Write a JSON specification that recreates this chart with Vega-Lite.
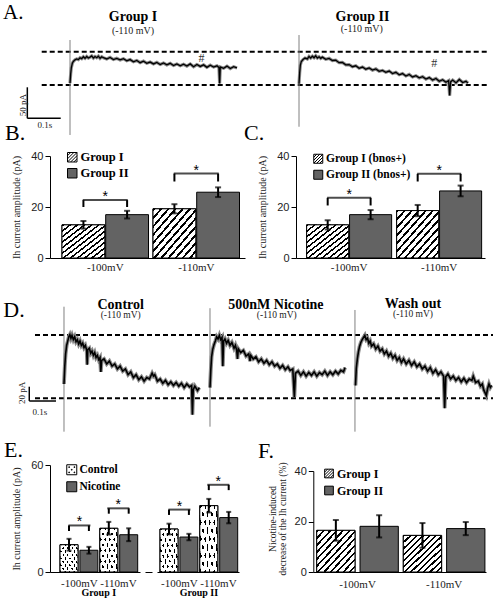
{
"$schema": "https://vega.github.io/schema/vega-lite/v6.json",
"background": "white",
"padding": 0,
"columns": 4,
"spacing": 0,
"bounds": "flush",
"align": "each",
"resolve": {"scale": {"x": "independent", "y": "independent", "xOffset": "independent", "fill": "independent"}, "axis": {"x": "independent", "y": "independent"}, "legend": {"fill": "independent"}},
"datasets": {
"barsB": [
{"volt":"-100mV","group":"Group I","mean":13.0,"lo":11.5,"hi":14.5},
{"volt":"-100mV","group":"Group II","mean":17.0,"lo":15.5,"hi":18.5},
{"volt":"-110mV","group":"Group I","mean":19.3,"lo":17.5,"hi":21.1},
{"volt":"-110mV","group":"Group II","mean":25.8,"lo":23.9,"hi":27.7}],
"sigB": [
{"volt":"-100mV","group":"Group I","top":22.7,"leg":20.0},
{"volt":"-100mV","group":"Group II","top":22.7,"leg":20.0},
{"volt":"-110mV","group":"Group I","top":33.1,"leg":30.0},
{"volt":"-110mV","group":"Group II","top":33.1,"leg":30.0}],
"barsC": [
{"volt":"-100mV","group":"Group I (bnos+)","mean":13.0,"lo":11.2,"hi":14.8},
{"volt":"-100mV","group":"Group II (bnos+)","mean":17.0,"lo":15.2,"hi":18.8},
{"volt":"-110mV","group":"Group I (bnos+)","mean":18.6,"lo":16.4,"hi":20.8},
{"volt":"-110mV","group":"Group II (bnos+)","mean":26.3,"lo":24.2,"hi":28.4}],
"sigC": [
{"volt":"-100mV","group":"Group I (bnos+)","top":23.6,"leg":20.6},
{"volt":"-100mV","group":"Group II (bnos+)","top":23.6,"leg":20.6},
{"volt":"-110mV","group":"Group I (bnos+)","top":33.0,"leg":30.0},
{"volt":"-110mV","group":"Group II (bnos+)","top":33.0,"leg":30.0}],
"barsE": [
{"cohort":"Group I","volt":"-100mV","cond":"Control","slot":"-100mV Control","mean":15.3,"lo":12.0,"hi":18.6},
{"cohort":"Group I","volt":"-100mV","cond":"Nicotine","slot":"-100mV Nicotine","mean":12.2,"lo":10.3,"hi":14.1},
{"cohort":"Group I","volt":"-110mV","cond":"Control","slot":"-110mV Control","mean":24.5,"lo":21.0,"hi":28.1},
{"cohort":"Group I","volt":"-110mV","cond":"Nicotine","slot":"-110mV Nicotine","mean":20.9,"lo":17.3,"hi":24.5},
{"cohort":"Group II","volt":"-100mV","cond":"Control","slot":"-100mV Control","mean":24.1,"lo":21.1,"hi":27.1},
{"cohort":"Group II","volt":"-100mV","cond":"Nicotine","slot":"-100mV Nicotine","mean":19.6,"lo":17.8,"hi":21.4},
{"cohort":"Group II","volt":"-110mV","cond":"Control","slot":"-110mV Control","mean":37.2,"lo":33.4,"hi":41.0},
{"cohort":"Group II","volt":"-110mV","cond":"Nicotine","slot":"-110mV Nicotine","mean":30.5,"lo":27.3,"hi":33.7}],
"sigE": [
{"cohort":"Group I","volt":"-100mV","slot":"-100mV Control","top":26.1,"leg":23.0},
{"cohort":"Group I","volt":"-100mV","slot":"-100mV Nicotine","top":26.1,"leg":23.0},
{"cohort":"Group I","volt":"-110mV","slot":"-110mV Control","top":35.7,"leg":32.7},
{"cohort":"Group I","volt":"-110mV","slot":"-110mV Nicotine","top":35.7,"leg":32.7},
{"cohort":"Group II","volt":"-100mV","slot":"-100mV Control","top":35.0,"leg":32.0},
{"cohort":"Group II","volt":"-100mV","slot":"-100mV Nicotine","top":35.0,"leg":32.0},
{"cohort":"Group II","volt":"-110mV","slot":"-110mV Control","top":48.9,"leg":45.9},
{"cohort":"Group II","volt":"-110mV","slot":"-110mV Nicotine","top":48.9,"leg":45.9}],
"barsF": [
{"volt":"-100mV","group":"Group I","mean":16.5,"lo":12.4,"hi":20.6},
{"volt":"-100mV","group":"Group II","mean":18.1,"lo":13.7,"hi":22.5},
{"volt":"-110mV","group":"Group I","mean":14.5,"lo":9.6,"hi":19.4},
{"volt":"-110mV","group":"Group II","mean":17.2,"lo":14.6,"hi":19.8}],
"segs": [
{"panel":"A1","kind":"dash","t":-0.0847,"t2":1.2485,"pA":0,"pA2":0},
{"panel":"A1","kind":"dash","t":-0.0847,"t2":1.2485,"pA":53.7,"pA2":53.7},
{"panel":"A1","kind":"art","t":0,"t2":0,"pA":-80.6,"pA2":72.6},
{"panel":"A1","kind":"bar","t":-0.1278,"t2":-0.0278,"pA":-53.7,"pA2":-53.7},
{"panel":"A1","kind":"bar","t":-0.1278,"t2":-0.1278,"pA":-53.7,"pA2":-3.7},
{"panel":"A2","kind":"art","t":0,"t2":0,"pA":-67.3,"pA2":80.6},
{"panel":"D1","kind":"dash","t":-0.1086,"t2":1.6067,"pA":0,"pA2":0},
{"panel":"D1","kind":"dash","t":-0.1086,"t2":1.6067,"pA":88.5,"pA2":88.5},
{"panel":"D1","kind":"art","t":0,"t2":0,"pA":-46.7,"pA2":128.1},
{"panel":"D1","kind":"bar","t":-0.13,"t2":-0.03,"pA":-3.8,"pA2":-3.8},
{"panel":"D1","kind":"bar","t":-0.13,"t2":-0.13,"pA":-3.8,"pA2":16.2},
{"panel":"D2","kind":"art","t":0,"t2":0,"pA":-39.7,"pA2":126},
{"panel":"D3","kind":"art","t":-0.002,"t2":-0.002,"pA":-46.7,"pA2":123.5}],
"notes": [
{"panel":"A1","kind":"letter","t":-0.2006,"pA":106.4,"text":"A."},
{"panel":"A1","kind":"title","t":0.1886,"pA":102.7,"text":"Group I"},
{"panel":"A1","kind":"sub","t":0.1886,"pA":81.5,"text":"(-110 mV)"},
{"panel":"A1","kind":"hash","t":0.394,"pA":37.1,"text":"#"},
{"panel":"A1","kind":"sl","t":-0.0749,"pA":-69.4,"text":"0.1s"},
{"panel":"A1","kind":"slv","t":-0.1416,"pA":-32.3,"text":"50 pA"},
{"panel":"A2","kind":"title","t":0.19,"pA":104,"text":"Group II"},
{"panel":"A2","kind":"sub","t":0.188,"pA":84.7,"text":"(-110 mV)"},
{"panel":"A2","kind":"hash","t":0.405,"pA":29,"text":"#"},
{"panel":"D1","kind":"letter","t":-0.2273,"pA":114.1,"text":"D."},
{"panel":"D1","kind":"title","t":0.2124,"pA":124.6,"text":"Control"},
{"panel":"D1","kind":"sub","t":0.2124,"pA":111.6,"text":"(-110 mV)"},
{"panel":"D1","kind":"sl","t":-0.09,"pA":-23.4,"text":"0.1s"},
{"panel":"D1","kind":"slv","t":-0.1584,"pA":7.4,"text":"20 pA"},
{"panel":"D2","kind":"title","t":0.247,"pA":125.4,"text":"500nM Nicotine"},
{"panel":"D2","kind":"sub","t":0.25,"pA":112.3,"text":"(-110 mV)"},
{"panel":"D3","kind":"title","t":0.2154,"pA":126.8,"text":"Wash out"},
{"panel":"D3","kind":"sub","t":0.2154,"pA":113.7,"text":"(-110 mV)"}],
"trA1": [
{"t":0,"pA":3},{"t":0.002,"pA":18},{"t":0.004,"pA":28},{"t":0.007,"pA":35},{"t":0.01,"pA":38},{"t":0.015,"pA":40.5},{"t":0.02,"pA":42},{"t":0.025,"pA":41},{"t":0.03,"pA":44},{"t":0.035,"pA":42.5},{"t":0.04,"pA":45.5},{"t":0.045,"pA":43},{"t":0.05,"pA":46},{"t":0.055,"pA":43.5},{"t":0.06,"pA":45},{"t":0.065,"pA":47},{"t":0.07,"pA":43.5},{"t":0.075,"pA":46},{"t":0.08,"pA":44},{"t":0.085,"pA":46.5},{"t":0.09,"pA":43},{"t":0.095,"pA":45.5},{"t":0.1,"pA":44},{"t":0.11,"pA":42},{"t":0.12,"pA":44.5},{"t":0.13,"pA":41},{"t":0.14,"pA":43},{"t":0.15,"pA":40.5},{"t":0.16,"pA":42.5},{"t":0.17,"pA":39},{"t":0.18,"pA":41},{"t":0.19,"pA":37.5},{"t":0.2,"pA":39.5},{"t":0.21,"pA":36},{"t":0.22,"pA":38.5},{"t":0.23,"pA":35},{"t":0.24,"pA":37},{"t":0.25,"pA":34},{"t":0.26,"pA":36.5},{"t":0.27,"pA":33},{"t":0.28,"pA":35.5},{"t":0.29,"pA":32.5},{"t":0.3,"pA":35},{"t":0.31,"pA":31.5},{"t":0.32,"pA":34},{"t":0.33,"pA":31},{"t":0.34,"pA":33.5},{"t":0.35,"pA":30.5},{"t":0.36,"pA":34},{"t":0.37,"pA":29.5},{"t":0.38,"pA":33},{"t":0.39,"pA":30},{"t":0.4,"pA":32.5},{"t":0.41,"pA":28.5},{"t":0.42,"pA":32},{"t":0.43,"pA":29},{"t":0.44,"pA":31},{"t":0.446,"pA":28},{"t":0.448,"pA":2.5},{"t":0.45,"pA":29},{"t":0.46,"pA":27},{"t":0.47,"pA":30.5},{"t":0.48,"pA":26.5},{"t":0.49,"pA":29.5},{"t":0.5,"pA":27.5}],
"trA2": [
{"t":0,"pA":2},{"t":0.002,"pA":20},{"t":0.004,"pA":32},{"t":0.007,"pA":38},{"t":0.012,"pA":41},{"t":0.018,"pA":43.5},{"t":0.025,"pA":42},{"t":0.03,"pA":46},{"t":0.035,"pA":43.5},{"t":0.04,"pA":46.5},{"t":0.045,"pA":44},{"t":0.05,"pA":47},{"t":0.055,"pA":43.5},{"t":0.06,"pA":45.5},{"t":0.065,"pA":43},{"t":0.07,"pA":45},{"t":0.08,"pA":41.5},{"t":0.09,"pA":43},{"t":0.1,"pA":39.5},{"t":0.11,"pA":40},{"t":0.12,"pA":36},{"t":0.13,"pA":36.5},{"t":0.14,"pA":32.5},{"t":0.15,"pA":33},{"t":0.16,"pA":29.5},{"t":0.17,"pA":31},{"t":0.18,"pA":27},{"t":0.19,"pA":29},{"t":0.2,"pA":25.5},{"t":0.21,"pA":27.5},{"t":0.22,"pA":24},{"t":0.23,"pA":26},{"t":0.24,"pA":22},{"t":0.25,"pA":23.5},{"t":0.26,"pA":20.5},{"t":0.27,"pA":22.5},{"t":0.28,"pA":18.5},{"t":0.29,"pA":20.5},{"t":0.3,"pA":16.5},{"t":0.31,"pA":18.5},{"t":0.32,"pA":14.5},{"t":0.33,"pA":17},{"t":0.34,"pA":13},{"t":0.35,"pA":15},{"t":0.36,"pA":11.5},{"t":0.37,"pA":13.5},{"t":0.38,"pA":9.5},{"t":0.39,"pA":12},{"t":0.4,"pA":8},{"t":0.41,"pA":10.5},{"t":0.42,"pA":6},{"t":0.43,"pA":8.5},{"t":0.44,"pA":4.5},{"t":0.448,"pA":7},{"t":0.451,"pA":-17},{"t":0.454,"pA":5},{"t":0.46,"pA":8},{"t":0.47,"pA":3.5},{"t":0.48,"pA":9},{"t":0.49,"pA":4},{"t":0.5,"pA":6},{"t":0.506,"pA":3}],
"trD1": [
{"t":0,"pA":20},{"t":0.003,"pA":45},{"t":0.006,"pA":62},{"t":0.01,"pA":74},{"t":0.014,"pA":80},{"t":0.018,"pA":86},{"t":0.022,"pA":89},{"t":0.026,"pA":84},{"t":0.03,"pA":88},{"t":0.035,"pA":82},{"t":0.04,"pA":86},{"t":0.045,"pA":79},{"t":0.05,"pA":82},{"t":0.055,"pA":76},{"t":0.06,"pA":80},{"t":0.065,"pA":74},{"t":0.07,"pA":77},{"t":0.075,"pA":71},{"t":0.08,"pA":74},{"t":0.085,"pA":67},{"t":0.087,"pA":47},{"t":0.089,"pA":68},{"t":0.095,"pA":70},{"t":0.1,"pA":63},{"t":0.105,"pA":66},{"t":0.11,"pA":60},{"t":0.115,"pA":64},{"t":0.12,"pA":57},{"t":0.125,"pA":60},{"t":0.13,"pA":54},{"t":0.135,"pA":57},{"t":0.138,"pA":37},{"t":0.141,"pA":53},{"t":0.15,"pA":55},{"t":0.16,"pA":48},{"t":0.17,"pA":52},{"t":0.18,"pA":45},{"t":0.19,"pA":48},{"t":0.2,"pA":41},{"t":0.21,"pA":45},{"t":0.22,"pA":38},{"t":0.23,"pA":41},{"t":0.24,"pA":33},{"t":0.25,"pA":37},{"t":0.26,"pA":29},{"t":0.27,"pA":33},{"t":0.28,"pA":26},{"t":0.29,"pA":30},{"t":0.3,"pA":24},{"t":0.31,"pA":29},{"t":0.32,"pA":27},{"t":0.33,"pA":35},{"t":0.335,"pA":31},{"t":0.34,"pA":33},{"t":0.35,"pA":24},{"t":0.36,"pA":27},{"t":0.37,"pA":21},{"t":0.38,"pA":25},{"t":0.39,"pA":19},{"t":0.4,"pA":23},{"t":0.41,"pA":18},{"t":0.42,"pA":22},{"t":0.43,"pA":17},{"t":0.44,"pA":21},{"t":0.45,"pA":15},{"t":0.46,"pA":20},{"t":0.47,"pA":16},{"t":0.478,"pA":18},{"t":0.481,"pA":-23},{"t":0.484,"pA":12},{"t":0.49,"pA":17},{"t":0.5,"pA":11},{"t":0.507,"pA":15}],
"trD2": [
{"t":0,"pA":15},{"t":0.003,"pA":40},{"t":0.006,"pA":58},{"t":0.01,"pA":68},{"t":0.015,"pA":75},{"t":0.02,"pA":80},{"t":0.025,"pA":86},{"t":0.03,"pA":83},{"t":0.035,"pA":88},{"t":0.04,"pA":82},{"t":0.045,"pA":85},{"t":0.048,"pA":45},{"t":0.051,"pA":80},{"t":0.056,"pA":83},{"t":0.062,"pA":77},{"t":0.068,"pA":81},{"t":0.075,"pA":74},{"t":0.082,"pA":78},{"t":0.09,"pA":70},{"t":0.095,"pA":74},{"t":0.1,"pA":67},{"t":0.103,"pA":55},{"t":0.106,"pA":69},{"t":0.115,"pA":64},{"t":0.125,"pA":67},{"t":0.135,"pA":59},{"t":0.145,"pA":62},{"t":0.15,"pA":52},{"t":0.153,"pA":60},{"t":0.162,"pA":55},{"t":0.172,"pA":58},{"t":0.182,"pA":51},{"t":0.192,"pA":55},{"t":0.202,"pA":49},{"t":0.212,"pA":53},{"t":0.222,"pA":47},{"t":0.232,"pA":51},{"t":0.242,"pA":45},{"t":0.252,"pA":48},{"t":0.262,"pA":42},{"t":0.272,"pA":46},{"t":0.282,"pA":40},{"t":0.292,"pA":44},{"t":0.3,"pA":39},{"t":0.31,"pA":41},{"t":0.316,"pA":2},{"t":0.32,"pA":35},{"t":0.33,"pA":38},{"t":0.34,"pA":32},{"t":0.35,"pA":37},{"t":0.36,"pA":31},{"t":0.37,"pA":36},{"t":0.38,"pA":32},{"t":0.39,"pA":37},{"t":0.4,"pA":31},{"t":0.41,"pA":36},{"t":0.42,"pA":33},{"t":0.43,"pA":38},{"t":0.44,"pA":32},{"t":0.45,"pA":37},{"t":0.46,"pA":33},{"t":0.47,"pA":38},{"t":0.48,"pA":34},{"t":0.49,"pA":39},{"t":0.5,"pA":37},{"t":0.506,"pA":43}],
"trD3": [
{"t":0,"pA":18},{"t":0.003,"pA":42},{"t":0.007,"pA":55},{"t":0.011,"pA":65},{"t":0.015,"pA":72},{"t":0.02,"pA":78},{"t":0.025,"pA":82},{"t":0.03,"pA":85},{"t":0.035,"pA":88},{"t":0.04,"pA":82},{"t":0.045,"pA":84},{"t":0.05,"pA":77},{"t":0.055,"pA":80},{"t":0.06,"pA":73},{"t":0.068,"pA":76},{"t":0.076,"pA":69},{"t":0.084,"pA":73},{"t":0.092,"pA":66},{"t":0.1,"pA":69},{"t":0.108,"pA":62},{"t":0.116,"pA":66},{"t":0.124,"pA":59},{"t":0.132,"pA":63},{"t":0.14,"pA":56},{"t":0.148,"pA":60},{"t":0.156,"pA":53},{"t":0.164,"pA":57},{"t":0.172,"pA":50},{"t":0.18,"pA":55},{"t":0.19,"pA":48},{"t":0.2,"pA":53},{"t":0.21,"pA":46},{"t":0.22,"pA":51},{"t":0.23,"pA":44},{"t":0.24,"pA":48},{"t":0.25,"pA":41},{"t":0.26,"pA":45},{"t":0.27,"pA":38},{"t":0.28,"pA":43},{"t":0.29,"pA":35},{"t":0.3,"pA":40},{"t":0.31,"pA":33},{"t":0.32,"pA":37},{"t":0.33,"pA":31},{"t":0.334,"pA":-14},{"t":0.338,"pA":30},{"t":0.346,"pA":34},{"t":0.356,"pA":27},{"t":0.366,"pA":31},{"t":0.376,"pA":25},{"t":0.386,"pA":29},{"t":0.396,"pA":23},{"t":0.406,"pA":28},{"t":0.416,"pA":22},{"t":0.426,"pA":27},{"t":0.436,"pA":25},{"t":0.441,"pA":31},{"t":0.45,"pA":22},{"t":0.46,"pA":24},{"t":0.468,"pA":17},{"t":0.475,"pA":20},{"t":0.48,"pA":12},{"t":0.485,"pA":8},{"t":0.49,"pA":4},{"t":0.495,"pA":14},{"t":0.5,"pA":20},{"t":0.505,"pA":15},{"t":0.51,"pA":18}]
},
"concat": [
{"data": {"values": []}, "mark": "point", "width": 50, "height": 156},
{"width": 195, "height": 156,
 "encoding": {
  "x": {"field": "t", "type": "quantitative", "scale": {"domain": [-0.0599, 0.524], "nice": false, "zero": false}, "axis": null},
  "y": {"field": "pA", "type": "quantitative", "scale": {"domain": [-114.5, 137.1], "nice": false, "zero": false}, "axis": null}},
 "layer": [
  {"data": {"name": "segs"}, "transform": [{"filter": "datum.panel === 'A1' && datum.kind === 'dash'"}], "mark": {"type": "rule", "color": "black", "strokeWidth": 2, "strokeDash": [5, 3]}, "encoding": {"x2": {"field": "t2"}, "y2": {"field": "pA2"}}},
  {"data": {"name": "segs"}, "transform": [{"filter": "datum.panel === 'A1' && datum.kind === 'art'"}], "mark": {"type": "rule", "color": "#808080", "strokeWidth": 1}, "encoding": {"x2": {"field": "t2"}, "y2": {"field": "pA2"}}},
  {"data": {"name": "segs"}, "transform": [{"filter": "datum.panel === 'A1' && datum.kind === 'bar'"}], "mark": {"type": "rule", "color": "black", "strokeWidth": 1.5}, "encoding": {"x2": {"field": "t2"}, "y2": {"field": "pA2"}}},
  {"data": {"name": "trA1"}, "mark": {"type": "line", "color": "#8a8a8a", "strokeWidth": 3.2}, "encoding": {}},
  {"data": {"name": "trA1"}, "mark": {"type": "line", "color": "black", "strokeWidth": 1.3}, "encoding": {}},
  {"data": {"name": "notes"}, "transform": [{"filter": "datum.panel === 'A1' && datum.kind === 'letter'"}], "mark": {"type": "text", "fontSize": 21, "align": "left", "baseline": "alphabetic", "color": "black"}, "encoding": {"text": {"field": "text"}}},
  {"data": {"name": "notes"}, "transform": [{"filter": "datum.panel === 'A1' && datum.kind === 'title'"}], "mark": {"type": "text", "fontSize": 14, "fontWeight": "bold", "align": "center", "baseline": "alphabetic", "color": "black"}, "encoding": {"text": {"field": "text"}}},
  {"data": {"name": "notes"}, "transform": [{"filter": "datum.panel === 'A1' && datum.kind === 'sub'"}], "mark": {"type": "text", "fontSize": 10, "align": "center", "baseline": "alphabetic", "color": "#222"}, "encoding": {"text": {"field": "text"}}},
  {"data": {"name": "notes"}, "transform": [{"filter": "datum.panel === 'A1' && datum.kind === 'hash'"}], "mark": {"type": "text", "fontSize": 12, "align": "center", "baseline": "alphabetic", "color": "#333"}, "encoding": {"text": {"field": "text"}}},
  {"data": {"name": "notes"}, "transform": [{"filter": "datum.panel === 'A1' && datum.kind === 'sl'"}], "mark": {"type": "text", "fontSize": 9, "align": "center", "baseline": "alphabetic", "color": "#222"}, "encoding": {"text": {"field": "text"}}},
  {"data": {"name": "notes"}, "transform": [{"filter": "datum.panel === 'A1' && datum.kind === 'slv'"}], "mark": {"type": "text", "fontSize": 9, "align": "center", "baseline": "middle", "angle": 270, "color": "#222"}, "encoding": {"text": {"field": "text"}}}
 ]},
{"data": {"values": []}, "mark": "point", "width": 51, "height": 156},
{"width": 190, "height": 156,
 "encoding": {
  "x": {"field": "t", "type": "quantitative", "scale": {"domain": [-0.009, 0.5599], "nice": false, "zero": false}, "axis": null},
  "y": {"field": "pA", "type": "quantitative", "scale": {"domain": [-114.5, 137.1], "nice": false, "zero": false}, "axis": null}},
 "layer": [
  {"data": {"name": "segs"}, "transform": [{"filter": "datum.panel === 'A2' && datum.kind === 'art'"}], "mark": {"type": "rule", "color": "#808080", "strokeWidth": 1}, "encoding": {"x2": {"field": "t2"}, "y2": {"field": "pA2"}}},
  {"data": {"name": "trA2"}, "mark": {"type": "line", "color": "#8a8a8a", "strokeWidth": 3.2}, "encoding": {}},
  {"data": {"name": "trA2"}, "mark": {"type": "line", "color": "black", "strokeWidth": 1.3}, "encoding": {}},
  {"data": {"name": "notes"}, "transform": [{"filter": "datum.panel === 'A2' && datum.kind === 'title'"}], "mark": {"type": "text", "fontSize": 14, "fontWeight": "bold", "align": "center", "baseline": "alphabetic", "color": "black"}, "encoding": {"text": {"field": "text"}}},
  {"data": {"name": "notes"}, "transform": [{"filter": "datum.panel === 'A2' && datum.kind === 'sub'"}], "mark": {"type": "text", "fontSize": 10, "align": "center", "baseline": "alphabetic", "color": "#222"}, "encoding": {"text": {"field": "text"}}},
  {"data": {"name": "notes"}, "transform": [{"filter": "datum.panel === 'A2' && datum.kind === 'hash'"}], "mark": {"type": "text", "fontSize": 12, "align": "center", "baseline": "alphabetic", "color": "#333"}, "encoding": {"text": {"field": "text"}}}
 ]},

{"data": {"values": []}, "mark": "point", "width": 50, "height": 102},
{"width": 195, "height": 102,
 "title": {"text": "B.", "dx": -45, "dy": -3},
 "encoding": {"x": {"field": "volt", "type": "nominal", "title": null, "scale": {"paddingInner": 0.0495, "paddingOuter": 0.0962, "align": 0.686}}},
 "layer": [
  {"data": {"name": "barsB"}, "mark": {"type": "bar", "stroke": "black", "strokeWidth": 1},
   "encoding": {
    "xOffset": {"field": "group", "type": "nominal", "scale": {"paddingInner": 0.02, "paddingOuter": 0}},
    "y": {"field": "mean", "type": "quantitative", "title": "Ih current amplitude (pA)", "scale": {"domain": [0, 40], "nice": false}, "axis": {"values": [0, 10, 20, 30, 40]}},
    "fill": {"field": "group", "type": "nominal", "scale": {"range": ["white", "#636363"]},
     "legend": {"title": null, "legendX": 16, "legendY": -5, "symbolSize": 90, "labelFontSize": 12.5, "rowPadding": 2,
      "encoding": {"symbols": {"shape": {"condition": {"test": "datum.value === 'Group I'", "value": "M-1,-1H1V1H-1Z M-1,-0.33L-0.33,-1 M-1,0.33L0.33,-1 M-1,1L1,-1 M-0.33,1L1,-0.33 M0.33,1L1,0.33"}, "value": "square"}}}}}}},
  {"data": {"name": "barsB"}, "transform": [{"filter": "datum.group === 'Group I'"}],
   "mark": {"type": "bar", "stroke": "black", "strokeWidth": 1, "fill": {"gradient":"linear","x1":0,"y1":0,"x2":1,"y2":1,"stops":[{"offset":0,"color":"#000"},{"offset":0.029,"color":"#000"},{"offset":0.029,"color":"#fff"},{"offset":0.083,"color":"#fff"},{"offset":0.083,"color":"#000"},{"offset":0.112,"color":"#000"},{"offset":0.112,"color":"#fff"},{"offset":0.167,"color":"#fff"},{"offset":0.167,"color":"#000"},{"offset":0.196,"color":"#000"},{"offset":0.196,"color":"#fff"},{"offset":0.25,"color":"#fff"},{"offset":0.25,"color":"#000"},{"offset":0.279,"color":"#000"},{"offset":0.279,"color":"#fff"},{"offset":0.333,"color":"#fff"},{"offset":0.333,"color":"#000"},{"offset":0.362,"color":"#000"},{"offset":0.362,"color":"#fff"},{"offset":0.417,"color":"#fff"},{"offset":0.417,"color":"#000"},{"offset":0.446,"color":"#000"},{"offset":0.446,"color":"#fff"},{"offset":0.5,"color":"#fff"},{"offset":0.5,"color":"#000"},{"offset":0.529,"color":"#000"},{"offset":0.529,"color":"#fff"},{"offset":0.583,"color":"#fff"},{"offset":0.583,"color":"#000"},{"offset":0.612,"color":"#000"},{"offset":0.612,"color":"#fff"},{"offset":0.667,"color":"#fff"},{"offset":0.667,"color":"#000"},{"offset":0.696,"color":"#000"},{"offset":0.696,"color":"#fff"},{"offset":0.75,"color":"#fff"},{"offset":0.75,"color":"#000"},{"offset":0.779,"color":"#000"},{"offset":0.779,"color":"#fff"},{"offset":0.833,"color":"#fff"},{"offset":0.833,"color":"#000"},{"offset":0.862,"color":"#000"},{"offset":0.862,"color":"#fff"},{"offset":0.917,"color":"#fff"},{"offset":0.917,"color":"#000"},{"offset":0.946,"color":"#000"},{"offset":0.946,"color":"#fff"},{"offset":1,"color":"#fff"}]}},
   "encoding": {"xOffset": {"field": "group", "type": "nominal"}, "y": {"field": "mean", "type": "quantitative", "title": "Ih current amplitude (pA)"}}},
  {"data": {"name": "barsB"}, "mark": {"type": "rule", "color": "black", "strokeWidth": 2},
   "encoding": {"xOffset": {"field": "group", "type": "nominal"}, "y": {"field": "lo", "type": "quantitative", "title": "Ih current amplitude (pA)"}, "y2": {"field": "hi"}}},
  {"data": {"name": "barsB"}, "mark": {"type": "tick", "color": "black", "thickness": 2, "size": 6},
   "encoding": {"xOffset": {"field": "group", "type": "nominal"}, "y": {"field": "hi", "type": "quantitative", "title": "Ih current amplitude (pA)"}}},
  {"data": {"name": "barsB"}, "mark": {"type": "tick", "color": "black", "thickness": 2, "size": 6},
   "encoding": {"xOffset": {"field": "group", "type": "nominal"}, "y": {"field": "lo", "type": "quantitative", "title": "Ih current amplitude (pA)"}}},
  {"data": {"name": "sigB"}, "mark": {"type": "rule", "color": "black", "strokeWidth": 2},
   "encoding": {"xOffset": {"field": "group", "type": "nominal"}, "y": {"field": "leg", "type": "quantitative", "title": "Ih current amplitude (pA)"}, "y2": {"field": "top"}}},
  {"data": {"name": "sigB"}, "transform": [{"filter": "datum.group === 'Group I'"}], "mark": {"type": "tick", "color": "black", "thickness": 2, "size": 45},
   "encoding": {"y": {"field": "top", "type": "quantitative", "title": "Ih current amplitude (pA)"}}},
  {"data": {"name": "sigB"}, "transform": [{"filter": "datum.group === 'Group I'"}], "mark": {"type": "text", "text": "*", "font": "Liberation Sans", "fontSize": 14, "dy": 1, "baseline": "alphabetic", "align": "center", "color": "black"},
   "encoding": {"y": {"field": "top", "type": "quantitative", "title": "Ih current amplitude (pA)"}}}
 ]},
{"data": {"values": []}, "mark": "point", "width": 51, "height": 102},
{"width": 189, "height": 102,
 "title": {"text": "C.", "dx": -52, "dy": -3},
 "encoding": {"x": {"field": "volt", "type": "nominal", "title": null, "scale": {"paddingInner": 0.0556, "paddingOuter": 0.0778, "align": 0.76}}},
 "layer": [
  {"data": {"name": "barsC"}, "mark": {"type": "bar", "stroke": "black", "strokeWidth": 1},
   "encoding": {
    "xOffset": {"field": "group", "type": "nominal", "scale": {"paddingInner": 0.02, "paddingOuter": 0}},
    "y": {"field": "mean", "type": "quantitative", "title": "Ih current amplitude (pA)", "scale": {"domain": [0, 40], "nice": false}, "axis": {"values": [0, 10, 20, 30, 40]}},
    "fill": {"field": "group", "type": "nominal", "scale": {"range": ["white", "#636363"]},
     "legend": {"title": null, "legendX": 16.5, "legendY": -3, "symbolSize": 81, "labelFontSize": 11.5, "rowPadding": 2,
      "encoding": {"symbols": {"shape": {"condition": {"test": "datum.value === 'Group I (bnos+)'", "value": "M-1,-1H1V1H-1Z M-1,-0.33L-0.33,-1 M-1,0.33L0.33,-1 M-1,1L1,-1 M-0.33,1L1,-0.33 M0.33,1L1,0.33"}, "value": "square"}}}}}}},
  {"data": {"name": "barsC"}, "transform": [{"filter": "datum.group === 'Group I (bnos+)'"}],
   "mark": {"type": "bar", "stroke": "black", "strokeWidth": 1, "fill": {"gradient":"linear","x1":0,"y1":0,"x2":1,"y2":1,"stops":[{"offset":0,"color":"#000"},{"offset":0.029,"color":"#000"},{"offset":0.029,"color":"#fff"},{"offset":0.083,"color":"#fff"},{"offset":0.083,"color":"#000"},{"offset":0.112,"color":"#000"},{"offset":0.112,"color":"#fff"},{"offset":0.167,"color":"#fff"},{"offset":0.167,"color":"#000"},{"offset":0.196,"color":"#000"},{"offset":0.196,"color":"#fff"},{"offset":0.25,"color":"#fff"},{"offset":0.25,"color":"#000"},{"offset":0.279,"color":"#000"},{"offset":0.279,"color":"#fff"},{"offset":0.333,"color":"#fff"},{"offset":0.333,"color":"#000"},{"offset":0.362,"color":"#000"},{"offset":0.362,"color":"#fff"},{"offset":0.417,"color":"#fff"},{"offset":0.417,"color":"#000"},{"offset":0.446,"color":"#000"},{"offset":0.446,"color":"#fff"},{"offset":0.5,"color":"#fff"},{"offset":0.5,"color":"#000"},{"offset":0.529,"color":"#000"},{"offset":0.529,"color":"#fff"},{"offset":0.583,"color":"#fff"},{"offset":0.583,"color":"#000"},{"offset":0.612,"color":"#000"},{"offset":0.612,"color":"#fff"},{"offset":0.667,"color":"#fff"},{"offset":0.667,"color":"#000"},{"offset":0.696,"color":"#000"},{"offset":0.696,"color":"#fff"},{"offset":0.75,"color":"#fff"},{"offset":0.75,"color":"#000"},{"offset":0.779,"color":"#000"},{"offset":0.779,"color":"#fff"},{"offset":0.833,"color":"#fff"},{"offset":0.833,"color":"#000"},{"offset":0.862,"color":"#000"},{"offset":0.862,"color":"#fff"},{"offset":0.917,"color":"#fff"},{"offset":0.917,"color":"#000"},{"offset":0.946,"color":"#000"},{"offset":0.946,"color":"#fff"},{"offset":1,"color":"#fff"}]}},
   "encoding": {"xOffset": {"field": "group", "type": "nominal"}, "y": {"field": "mean", "type": "quantitative", "title": "Ih current amplitude (pA)"}}},
  {"data": {"name": "barsC"}, "mark": {"type": "rule", "color": "black", "strokeWidth": 2},
   "encoding": {"xOffset": {"field": "group", "type": "nominal"}, "y": {"field": "lo", "type": "quantitative", "title": "Ih current amplitude (pA)"}, "y2": {"field": "hi"}}},
  {"data": {"name": "barsC"}, "mark": {"type": "tick", "color": "black", "thickness": 2, "size": 6},
   "encoding": {"xOffset": {"field": "group", "type": "nominal"}, "y": {"field": "hi", "type": "quantitative", "title": "Ih current amplitude (pA)"}}},
  {"data": {"name": "barsC"}, "mark": {"type": "tick", "color": "black", "thickness": 2, "size": 6},
   "encoding": {"xOffset": {"field": "group", "type": "nominal"}, "y": {"field": "lo", "type": "quantitative", "title": "Ih current amplitude (pA)"}}},
  {"data": {"name": "sigC"}, "mark": {"type": "rule", "color": "black", "strokeWidth": 2},
   "encoding": {"xOffset": {"field": "group", "type": "nominal"}, "y": {"field": "leg", "type": "quantitative", "title": "Ih current amplitude (pA)"}, "y2": {"field": "top"}}},
  {"data": {"name": "sigC"}, "transform": [{"filter": "datum.group === 'Group I (bnos+)'"}], "mark": {"type": "tick", "color": "black", "thickness": 2, "size": 44},
   "encoding": {"y": {"field": "top", "type": "quantitative", "title": "Ih current amplitude (pA)"}}},
  {"data": {"name": "sigC"}, "transform": [{"filter": "datum.group === 'Group I (bnos+)'"}], "mark": {"type": "text", "text": "*", "font": "Liberation Sans", "fontSize": 14, "dy": 1, "baseline": "alphabetic", "align": "center", "color": "black"},
   "encoding": {"y": {"field": "top", "type": "quantitative", "title": "Ih current amplitude (pA)"}}}
 ]},

{"data": {"values": []}, "mark": "point", "width": 50, "height": 206.5},
{"width": 195, "height": 206.5,
 "encoding": {
  "x": {"field": "t", "type": "quantitative", "scale": {"domain": [-0.0524, 0.6779], "nice": false, "zero": false}, "axis": null},
  "y": {"field": "pA", "type": "quantitative", "scale": {"domain": [-92.6, 196.2], "nice": false, "zero": false}, "axis": null}},
 "layer": [
  {"data": {"name": "segs"}, "transform": [{"filter": "datum.panel === 'D1' && datum.kind === 'dash'"}], "mark": {"type": "rule", "color": "black", "strokeWidth": 2, "strokeDash": [5, 3]}, "encoding": {"x2": {"field": "t2"}, "y2": {"field": "pA2"}}},
  {"data": {"name": "segs"}, "transform": [{"filter": "datum.panel === 'D1' && datum.kind === 'art'"}], "mark": {"type": "rule", "color": "#808080", "strokeWidth": 1}, "encoding": {"x2": {"field": "t2"}, "y2": {"field": "pA2"}}},
  {"data": {"name": "segs"}, "transform": [{"filter": "datum.panel === 'D1' && datum.kind === 'bar'"}], "mark": {"type": "rule", "color": "black", "strokeWidth": 1.5}, "encoding": {"x2": {"field": "t2"}, "y2": {"field": "pA2"}}},
  {"data": {"name": "trD1"}, "mark": {"type": "line", "color": "#8a8a8a", "strokeWidth": 3.8}, "encoding": {}},
  {"data": {"name": "trD1"}, "mark": {"type": "line", "color": "black", "strokeWidth": 1.6}, "encoding": {}},
  {"data": {"name": "notes"}, "transform": [{"filter": "datum.panel === 'D1' && datum.kind === 'letter'"}], "mark": {"type": "text", "fontSize": 22, "align": "left", "baseline": "alphabetic", "color": "black"}, "encoding": {"text": {"field": "text"}}},
  {"data": {"name": "notes"}, "transform": [{"filter": "datum.panel === 'D1' && datum.kind === 'title'"}], "mark": {"type": "text", "fontSize": 14, "fontWeight": "bold", "align": "center", "baseline": "alphabetic", "color": "black"}, "encoding": {"text": {"field": "text"}}},
  {"data": {"name": "notes"}, "transform": [{"filter": "datum.panel === 'D1' && datum.kind === 'sub'"}], "mark": {"type": "text", "fontSize": 9.5, "align": "center", "baseline": "alphabetic", "color": "#222"}, "encoding": {"text": {"field": "text"}}},
  {"data": {"name": "notes"}, "transform": [{"filter": "datum.panel === 'D1' && datum.kind === 'sl'"}], "mark": {"type": "text", "fontSize": 9, "align": "center", "baseline": "alphabetic", "color": "#222"}, "encoding": {"text": {"field": "text"}}},
  {"data": {"name": "notes"}, "transform": [{"filter": "datum.panel === 'D1' && datum.kind === 'slv'"}], "mark": {"type": "text", "fontSize": 9, "align": "center", "baseline": "middle", "angle": 270, "color": "#222"}, "encoding": {"text": {"field": "text"}}}
 ]},
{"width": 51, "height": 206.5,
 "encoding": {
  "x": {"field": "t", "type": "quantitative", "scale": {"domain": [0.1311, 0.3221], "nice": false, "zero": false}, "axis": null},
  "y": {"field": "pA", "type": "quantitative", "scale": {"domain": [-92.6, 196.2], "nice": false, "zero": false}, "axis": null}},
 "layer": [
  {"data": {"name": "segs"}, "transform": [{"filter": "datum.panel === 'D2' && datum.kind === 'art'"}], "mark": {"type": "rule", "color": "#808080", "strokeWidth": 1}, "encoding": {"x2": {"field": "t2"}, "y2": {"field": "pA2"}}},
  {"data": {"name": "trD2"}, "mark": {"type": "line", "color": "#8a8a8a", "strokeWidth": 3.8}, "encoding": {}},
  {"data": {"name": "trD2"}, "mark": {"type": "line", "color": "black", "strokeWidth": 1.6}, "encoding": {}},
  {"data": {"name": "notes"}, "transform": [{"filter": "datum.panel === 'D2' && datum.kind === 'title'"}], "mark": {"type": "text", "fontSize": 14, "fontWeight": "bold", "align": "center", "baseline": "alphabetic", "color": "black"}, "encoding": {"text": {"field": "text"}}},
  {"data": {"name": "notes"}, "transform": [{"filter": "datum.panel === 'D2' && datum.kind === 'sub'"}], "mark": {"type": "text", "fontSize": 9.5, "align": "center", "baseline": "alphabetic", "color": "#222"}, "encoding": {"text": {"field": "text"}}}
 ]},
{"width": 190, "height": 206.5,
 "encoding": {
  "x": {"field": "t", "type": "quantitative", "scale": {"domain": [-0.2228, 0.4888], "nice": false, "zero": false}, "axis": null},
  "y": {"field": "pA", "type": "quantitative", "scale": {"domain": [-92.6, 196.2], "nice": false, "zero": false}, "axis": null}},
 "layer": [
  {"data": {"name": "segs"}, "transform": [{"filter": "datum.panel === 'D3' && datum.kind === 'art'"}], "mark": {"type": "rule", "color": "#808080", "strokeWidth": 1}, "encoding": {"x2": {"field": "t2"}, "y2": {"field": "pA2"}}},
  {"data": {"name": "trD3"}, "mark": {"type": "line", "color": "#8a8a8a", "strokeWidth": 3.8}, "encoding": {}},
  {"data": {"name": "trD3"}, "mark": {"type": "line", "color": "black", "strokeWidth": 1.6}, "encoding": {}},
  {"data": {"name": "notes"}, "transform": [{"filter": "datum.panel === 'D3' && datum.kind === 'title'"}], "mark": {"type": "text", "fontSize": 14, "fontWeight": "bold", "align": "center", "baseline": "alphabetic", "color": "black"}, "encoding": {"text": {"field": "text"}}},
  {"data": {"name": "notes"}, "transform": [{"filter": "datum.panel === 'D3' && datum.kind === 'sub'"}], "mark": {"type": "text", "fontSize": 9.5, "align": "center", "baseline": "alphabetic", "color": "#222"}, "encoding": {"text": {"field": "text"}}}
 ]},

{"data": {"values": []}, "mark": "point", "width": 50, "height": 107},
{"width": 189, "height": 107,
 "title": {"text": "E.", "dx": -46, "dy": 4.5},
 "resolve": {"scale": {"xOffset": "independent"}},
 "encoding": {"x": {"field": "cohort", "type": "nominal", "title": null, "scale": {"paddingInner": 0.223, "paddingOuter": 0.0565, "align": 0.885}, "axis": {"labelExpr": "'-100mV -110mV'", "labelPadding": 5, "domainDash": [90, 5, 7, 5, 200]}}},
 "layer": [
  {"data": {"name": "barsE"}, "mark": {"type": "bar", "stroke": "black", "strokeWidth": 1},
   "encoding": {
    "xOffset": {"field": "slot", "type": "nominal", "scale": {"type": "band", "domain": ["-100mV Control","-100mV Nicotine","-110mV Control","-110mV Nicotine"], "paddingInner": 0.095, "paddingOuter": 0}},
    "y": {"field": "mean", "type": "quantitative", "title": "Ih current amplitude (pA)", "scale": {"domain": [0, 60], "nice": false}, "axis": {"values": [0, 10, 20, 30, 40, 50, 60]}},
    "fill": {"field": "cond", "type": "nominal", "scale": {"range": ["white", "#636363"]},
     "legend": {"title": null, "legendX": 16, "legendY": -1, "symbolSize": 100, "labelFontSize": 11.5, "rowPadding": 2,
      "encoding": {"symbols": {"shape": {"condition": {"test": "datum.value === 'Control'", "value": "M-1,-1H1V1H-1Z M-0.6,-0.6h0.15v0.15h-0.15Z M0.45,-0.6h0.15v0.15h-0.15Z M-0.08,-0.08h0.15v0.15h-0.15Z M-0.6,0.45h0.15v0.15h-0.15Z M0.45,0.45h0.15v0.15h-0.15Z"}, "value": "square"}}}}}}},
  {"data": {"name": "barsE"}, "transform": [{"filter": "datum.cond === 'Control'"}],
   "mark": {"type": "bar", "strokeWidth": 0, "fill": {"gradient":"linear","x1":0,"y1":0,"x2":1,"y2":1,"stops":[{"offset":0,"color":"#000"},{"offset":0.056,"color":"#000"},{"offset":0.056,"color":"rgba(0,0,0,0)"},{"offset":0.125,"color":"rgba(0,0,0,0)"},{"offset":0.125,"color":"#000"},{"offset":0.181,"color":"#000"},{"offset":0.181,"color":"rgba(0,0,0,0)"},{"offset":0.25,"color":"rgba(0,0,0,0)"},{"offset":0.25,"color":"#000"},{"offset":0.306,"color":"#000"},{"offset":0.306,"color":"rgba(0,0,0,0)"},{"offset":0.375,"color":"rgba(0,0,0,0)"},{"offset":0.375,"color":"#000"},{"offset":0.431,"color":"#000"},{"offset":0.431,"color":"rgba(0,0,0,0)"},{"offset":0.5,"color":"rgba(0,0,0,0)"},{"offset":0.5,"color":"#000"},{"offset":0.556,"color":"#000"},{"offset":0.556,"color":"rgba(0,0,0,0)"},{"offset":0.625,"color":"rgba(0,0,0,0)"},{"offset":0.625,"color":"#000"},{"offset":0.681,"color":"#000"},{"offset":0.681,"color":"rgba(0,0,0,0)"},{"offset":0.75,"color":"rgba(0,0,0,0)"},{"offset":0.75,"color":"#000"},{"offset":0.806,"color":"#000"},{"offset":0.806,"color":"rgba(0,0,0,0)"},{"offset":0.875,"color":"rgba(0,0,0,0)"},{"offset":0.875,"color":"#000"},{"offset":0.931,"color":"#000"},{"offset":0.931,"color":"rgba(0,0,0,0)"},{"offset":1,"color":"rgba(0,0,0,0)"}]}},
   "encoding": {"xOffset": {"field": "slot", "type": "nominal", "scale": {"type": "band", "domain": ["-100mV Control","-100mV Nicotine","-110mV Control","-110mV Nicotine"], "paddingInner": 0.095, "paddingOuter": 0}}, "y": {"field": "mean", "type": "quantitative", "title": "Ih current amplitude (pA)"}}},
  {"data": {"name": "barsE"}, "transform": [{"filter": "datum.cond === 'Control'"}],
   "mark": {"type": "bar", "stroke": "black", "strokeWidth": 1, "fill": {"gradient":"linear","x1":1,"y1":0,"x2":0,"y2":1,"stops":[{"offset":0,"color":"#fff"},{"offset":0.075,"color":"#fff"},{"offset":0.075,"color":"rgba(255,255,255,0)"},{"offset":0.125,"color":"rgba(255,255,255,0)"},{"offset":0.125,"color":"#fff"},{"offset":0.2,"color":"#fff"},{"offset":0.2,"color":"rgba(255,255,255,0)"},{"offset":0.25,"color":"rgba(255,255,255,0)"},{"offset":0.25,"color":"#fff"},{"offset":0.325,"color":"#fff"},{"offset":0.325,"color":"rgba(255,255,255,0)"},{"offset":0.375,"color":"rgba(255,255,255,0)"},{"offset":0.375,"color":"#fff"},{"offset":0.45,"color":"#fff"},{"offset":0.45,"color":"rgba(255,255,255,0)"},{"offset":0.5,"color":"rgba(255,255,255,0)"},{"offset":0.5,"color":"#fff"},{"offset":0.575,"color":"#fff"},{"offset":0.575,"color":"rgba(255,255,255,0)"},{"offset":0.625,"color":"rgba(255,255,255,0)"},{"offset":0.625,"color":"#fff"},{"offset":0.7,"color":"#fff"},{"offset":0.7,"color":"rgba(255,255,255,0)"},{"offset":0.75,"color":"rgba(255,255,255,0)"},{"offset":0.75,"color":"#fff"},{"offset":0.825,"color":"#fff"},{"offset":0.825,"color":"rgba(255,255,255,0)"},{"offset":0.875,"color":"rgba(255,255,255,0)"},{"offset":0.875,"color":"#fff"},{"offset":0.95,"color":"#fff"},{"offset":0.95,"color":"rgba(255,255,255,0)"},{"offset":1,"color":"rgba(255,255,255,0)"}]}},
   "encoding": {"xOffset": {"field": "slot", "type": "nominal", "scale": {"type": "band", "domain": ["-100mV Control","-100mV Nicotine","-110mV Control","-110mV Nicotine"], "paddingInner": 0.095, "paddingOuter": 0}}, "y": {"field": "mean", "type": "quantitative", "title": "Ih current amplitude (pA)"}}},
  {"data": {"name": "barsE"}, "mark": {"type": "rule", "color": "black", "strokeWidth": 2},
   "encoding": {"xOffset": {"field": "slot", "type": "nominal", "scale": {"type": "band", "domain": ["-100mV Control","-100mV Nicotine","-110mV Control","-110mV Nicotine"], "paddingInner": 0.095, "paddingOuter": 0}}, "y": {"field": "lo", "type": "quantitative", "title": "Ih current amplitude (pA)"}, "y2": {"field": "hi"}}},
  {"data": {"name": "barsE"}, "mark": {"type": "tick", "color": "black", "thickness": 2, "size": 5},
   "encoding": {"xOffset": {"field": "slot", "type": "nominal", "scale": {"type": "band", "domain": ["-100mV Control","-100mV Nicotine","-110mV Control","-110mV Nicotine"], "paddingInner": 0.095, "paddingOuter": 0}}, "y": {"field": "hi", "type": "quantitative", "title": "Ih current amplitude (pA)"}}},
  {"data": {"name": "barsE"}, "mark": {"type": "tick", "color": "black", "thickness": 2, "size": 5},
   "encoding": {"xOffset": {"field": "slot", "type": "nominal", "scale": {"type": "band", "domain": ["-100mV Control","-100mV Nicotine","-110mV Control","-110mV Nicotine"], "paddingInner": 0.095, "paddingOuter": 0}}, "y": {"field": "lo", "type": "quantitative", "title": "Ih current amplitude (pA)"}}},
  {"data": {"name": "sigE"}, "mark": {"type": "rule", "color": "black", "strokeWidth": 2},
   "encoding": {"xOffset": {"field": "slot", "type": "nominal", "scale": {"type": "band", "domain": ["-100mV Control","-100mV Nicotine","-110mV Control","-110mV Nicotine"], "paddingInner": 0.095, "paddingOuter": 0}}, "y": {"field": "leg", "type": "quantitative", "title": "Ih current amplitude (pA)"}, "y2": {"field": "top"}}},
  {"data": {"name": "sigE"}, "transform": [{"filter": "indexof(datum.slot, 'Control') >= 0"}], "mark": {"type": "tick", "color": "black", "thickness": 2, "size": 22},
   "encoding": {"xOffset": {"field": "volt", "type": "nominal", "scale": {"type": "band", "domain": ["-100mV", "-110mV"], "paddingInner": 0, "paddingOuter": 0}}, "y": {"field": "top", "type": "quantitative", "title": "Ih current amplitude (pA)"}}},
  {"data": {"name": "sigE"}, "transform": [{"filter": "indexof(datum.slot, 'Control') >= 0"}], "mark": {"type": "text", "text": "*", "font": "Liberation Sans", "fontSize": 14, "dy": 1, "baseline": "alphabetic", "align": "center", "color": "black"},
   "encoding": {"xOffset": {"field": "volt", "type": "nominal", "scale": {"type": "band", "domain": ["-100mV", "-110mV"], "paddingInner": 0, "paddingOuter": 0}}, "y": {"field": "top", "type": "quantitative", "title": "Ih current amplitude (pA)"}}},
  {"data": {"name": "barsE"}, "transform": [{"filter": "datum.slot === '-100mV Control'"}], "mark": {"type": "text", "fontSize": 10, "fontWeight": "bold", "baseline": "alphabetic", "align": "center", "color": "black"},
   "encoding": {"y": {"datum": -13.7, "type": "quantitative", "title": "Ih current amplitude (pA)"}, "text": {"field": "cohort"}}}
 ]},
{"data": {"values": []}, "mark": "point", "width": 51, "height": 107},
{"width": 190, "height": 107,
 "title": {"text": "F.", "dx": -38, "dy": 3},
 "encoding": {"x": {"field": "volt", "type": "nominal", "title": null, "scale": {"paddingInner": 0.0577, "paddingOuter": 0.1259, "align": 0.95}, "axis": {"labelPadding": 6, "domainDash": [0, 17.3, 180, 10]}}},
 "layer": [
  {"data": {"name": "barsF"}, "mark": {"type": "bar", "stroke": "black", "strokeWidth": 1},
   "encoding": {
    "xOffset": {"field": "group", "type": "nominal", "scale": {"paddingInner": 0.116, "paddingOuter": 0}},
    "y": {"field": "mean", "type": "quantitative", "title": ["Nicotine-induced", "decrease of the Ih current (%)"], "scale": {"domain": [0, 42.4], "nice": false}, "axis": {"values": [0, 10, 20, 30, 40], "offset": -17.3, "domainDash": [101, 30], "titlePadding": 7, "titleLineHeight": 10, "titleFontSize": 9.5}},
    "fill": {"field": "group", "type": "nominal", "scale": {"range": ["white", "#636363"]},
     "legend": {"title": null, "legendX": 27, "legendY": 2.5, "symbolSize": 75, "labelFontSize": 12, "rowPadding": 3,
      "encoding": {"symbols": {"shape": {"condition": {"test": "datum.value === 'Group I'", "value": "M-1,-1H1V1H-1Z M-1,-0.33L-0.33,-1 M-1,0.33L0.33,-1 M-1,1L1,-1 M-0.33,1L1,-0.33 M0.33,1L1,0.33"}, "value": "square"}}}}}}},
  {"data": {"name": "barsF"}, "transform": [{"filter": "datum.group === 'Group I'"}],
   "mark": {"type": "bar", "stroke": "black", "strokeWidth": 1, "fill": {"gradient":"linear","x1":0,"y1":0,"x2":1,"y2":1,"stops":[{"offset":0,"color":"#000"},{"offset":0.029,"color":"#000"},{"offset":0.029,"color":"#fff"},{"offset":0.083,"color":"#fff"},{"offset":0.083,"color":"#000"},{"offset":0.112,"color":"#000"},{"offset":0.112,"color":"#fff"},{"offset":0.167,"color":"#fff"},{"offset":0.167,"color":"#000"},{"offset":0.196,"color":"#000"},{"offset":0.196,"color":"#fff"},{"offset":0.25,"color":"#fff"},{"offset":0.25,"color":"#000"},{"offset":0.279,"color":"#000"},{"offset":0.279,"color":"#fff"},{"offset":0.333,"color":"#fff"},{"offset":0.333,"color":"#000"},{"offset":0.362,"color":"#000"},{"offset":0.362,"color":"#fff"},{"offset":0.417,"color":"#fff"},{"offset":0.417,"color":"#000"},{"offset":0.446,"color":"#000"},{"offset":0.446,"color":"#fff"},{"offset":0.5,"color":"#fff"},{"offset":0.5,"color":"#000"},{"offset":0.529,"color":"#000"},{"offset":0.529,"color":"#fff"},{"offset":0.583,"color":"#fff"},{"offset":0.583,"color":"#000"},{"offset":0.612,"color":"#000"},{"offset":0.612,"color":"#fff"},{"offset":0.667,"color":"#fff"},{"offset":0.667,"color":"#000"},{"offset":0.696,"color":"#000"},{"offset":0.696,"color":"#fff"},{"offset":0.75,"color":"#fff"},{"offset":0.75,"color":"#000"},{"offset":0.779,"color":"#000"},{"offset":0.779,"color":"#fff"},{"offset":0.833,"color":"#fff"},{"offset":0.833,"color":"#000"},{"offset":0.862,"color":"#000"},{"offset":0.862,"color":"#fff"},{"offset":0.917,"color":"#fff"},{"offset":0.917,"color":"#000"},{"offset":0.946,"color":"#000"},{"offset":0.946,"color":"#fff"},{"offset":1,"color":"#fff"}]}},
   "encoding": {"xOffset": {"field": "group", "type": "nominal"}, "y": {"field": "mean", "type": "quantitative", "title": ["Nicotine-induced", "decrease of the Ih current (%)"]}}},
  {"data": {"name": "barsF"}, "mark": {"type": "rule", "color": "black", "strokeWidth": 2},
   "encoding": {"xOffset": {"field": "group", "type": "nominal"}, "y": {"field": "lo", "type": "quantitative", "title": ["Nicotine-induced", "decrease of the Ih current (%)"]}, "y2": {"field": "hi"}}},
  {"data": {"name": "barsF"}, "mark": {"type": "tick", "color": "black", "thickness": 2, "size": 6},
   "encoding": {"xOffset": {"field": "group", "type": "nominal"}, "y": {"field": "hi", "type": "quantitative", "title": ["Nicotine-induced", "decrease of the Ih current (%)"]}}},
  {"data": {"name": "barsF"}, "mark": {"type": "tick", "color": "black", "thickness": 2, "size": 6},
   "encoding": {"xOffset": {"field": "group", "type": "nominal"}, "y": {"field": "lo", "type": "quantitative", "title": ["Nicotine-induced", "decrease of the Ih current (%)"]}}}
 ]}
],
"config": {
 "font": "Liberation Serif",
 "view": {"stroke": null},
 "axis": {"grid": false, "domainColor": "black", "domainWidth": 1, "tickColor": "black", "tickWidth": 1, "labelColor": "#222", "titleColor": "#222"},
 "axisY": {"tickSize": 5, "labelFont": "Liberation Sans", "labelFontSize": 11, "labelPadding": 2, "titleFont": "Liberation Serif", "titleFontSize": 10, "titleFontWeight": "normal", "titlePadding": 9},
 "axisX": {"ticks": false, "labelAngle": 0, "labelFont": "Liberation Serif", "labelFontSize": 11, "labelPadding": 3, "titleFont": "Liberation Serif", "titleFontSize": 10, "titleFontWeight": "bold", "titleColor": "black", "titlePadding": 1},
 "title": {"font": "Liberation Serif", "fontSize": 22, "fontWeight": "normal", "color": "black", "anchor": "start", "frame": "group", "offset": 2},
 "legend": {"orient": "none", "symbolType": "square", "symbolStrokeColor": "black", "symbolStrokeWidth": 1, "labelFont": "Liberation Serif", "labelFontWeight": "bold", "labelColor": "black", "labelOffset": 2, "padding": 0}
}
}
